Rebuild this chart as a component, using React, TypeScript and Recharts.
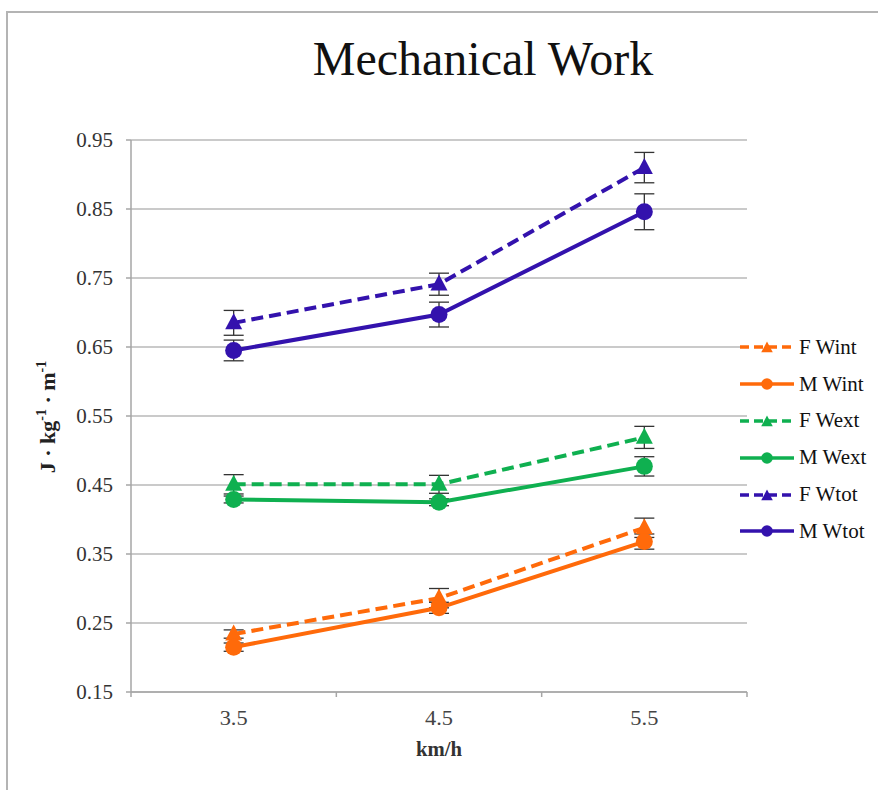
import React from 'react';
import { LineChart, Line, XAxis, YAxis, CartesianGrid, ErrorBar } from 'recharts';

// walking speed (km/h) and mechanical work (J·kg⁻¹·m⁻¹), mean ± SD
const speeds = [3.5, 4.5, 5.5];

const fWint = [0.234, 0.286, 0.388];
const fWintSd = [0.006, 0.014, 0.014];
const mWint = [0.215, 0.272, 0.368];
const mWintSd = [0.006, 0.008, 0.011];

const fWext = [0.451, 0.451, 0.519];
const fWextSd = [0.014, 0.013, 0.016];
const mWext = [0.429, 0.425, 0.477];
const mWextSd = [0.005, 0.005, 0.014];

const fWtot = [0.685, 0.741, 0.910];
const fWtotSd = [0.018, 0.016, 0.022];
const mWtot = [0.645, 0.697, 0.846];
const mWtotSd = [0.015, 0.018, 0.026];

const yTicks = [0.15, 0.25, 0.35, 0.45, 0.55, 0.65, 0.75, 0.85, 0.95];
// band edges get tick marks, band centres get the speed labels
const xTicks = [3, 3.5, 4, 4.5, 5, 5.5, 6];

const SERIF = '"Liberation Serif", "Times New Roman", serif';
const ORANGE = '#ff6a0a';
const GREEN = '#0fb050';
const BLUE = '#3312ad';
const AXIS = '#a6a6a6';

type Shape = 'triangle' | 'circle';

interface Series {
  key: string;
  name: string;
  color: string;
  dashed: boolean;
  shape: Shape;
  values: number[];
  sd: number[];
}

const series: Series[] = [
  { key: 'fWint', name: 'F Wint', color: ORANGE, dashed: true, shape: 'triangle', values: fWint, sd: fWintSd },
  { key: 'mWint', name: 'M Wint', color: ORANGE, dashed: false, shape: 'circle', values: mWint, sd: mWintSd },
  { key: 'fWext', name: 'F Wext', color: GREEN, dashed: true, shape: 'triangle', values: fWext, sd: fWextSd },
  { key: 'mWext', name: 'M Wext', color: GREEN, dashed: false, shape: 'circle', values: mWext, sd: mWextSd },
  { key: 'fWtot', name: 'F Wtot', color: BLUE, dashed: true, shape: 'triangle', values: fWtot, sd: fWtotSd },
  { key: 'mWtot', name: 'M Wtot', color: BLUE, dashed: false, shape: 'circle', values: mWtot, sd: mWtotSd },
];

const rows = speeds.map((speed, i) => {
  const row: Record<string, number> = { speed };
  series.forEach((s) => {
    row[s.key] = s.values[i];
    row[`${s.key}Sd`] = s.sd[i];
  });
  return row;
});

// ─── Markers ──────────────────────────────────────────────────────────────────

function Marker({ cx, cy, color, shape, scale = 1 }: { cx: number; cy: number; color: string; shape: Shape; scale?: number }) {
  if (shape === 'triangle') {
    const w = 17 * scale;
    const h = 16 * scale;
    return (
      <polygon
        points={`${cx},${cy - h * 0.6} ${cx - w / 2},${cy + h * 0.4} ${cx + w / 2},${cy + h * 0.4}`}
        fill={color}
      />
    );
  }
  return <circle cx={cx} cy={cy} r={8.5 * scale} fill={color} />;
}

// ─── Axis pieces ──────────────────────────────────────────────────────────────

function SpeedTick({ x, y, payload }: any) {
  const v = payload.value as number;
  if (Number.isInteger(v)) {
    return <line x1={x} y1={y} x2={x} y2={y + 5} stroke={AXIS} strokeWidth={1.5} />;
  }
  return (
    <text
      x={x}
      y={y + 33}
      textAnchor="middle"
      fontFamily={SERIF}
      fontSize={20}
      fill="#444"
      textLength={28}
      lengthAdjust="spacingAndGlyphs"
    >
      {v.toFixed(1)}
    </text>
  );
}

function SpeedLabel() {
  return (
    <text
      x={439}
      y={756}
      textAnchor="middle"
      fontFamily={SERIF}
      fontSize={21}
      fontWeight="bold"
      fill="#333"
      textLength={46}
      lengthAdjust="spacingAndGlyphs"
    >
      km/h
    </text>
  );
}

function UnitLabel() {
  return (
    <text
      transform="translate(55, 417) rotate(-90)"
      textAnchor="middle"
      fontFamily={SERIF}
      fontSize={22}
      fontWeight="bold"
      fill="#222"
    >
      <tspan>J · kg</tspan>
      <tspan dy={-9} fontSize={14}>-1</tspan>
      <tspan dy={9}> ·  m</tspan>
      <tspan dy={-9} fontSize={14}>-1</tspan>
    </text>
  );
}

// ─── Legend ───────────────────────────────────────────────────────────────────

function LegendBlock() {
  return (
    <div style={{ position: 'absolute', left: 738, top: 329, fontFamily: SERIF, fontSize: 21, color: '#111' }}>
      {series.map((s) => (
        <div key={s.key} style={{ display: 'flex', alignItems: 'center', height: 36.8 }}>
          <svg width={58} height={20} style={{ display: 'block' }}>
            <line
              x1={2}
              y1={10}
              x2={56}
              y2={10}
              stroke={s.color}
              strokeWidth={3.5}
              strokeDasharray={s.dashed ? '9 5' : undefined}
            />
            <Marker cx={29} cy={s.shape === 'triangle' ? 11 : 10} color={s.color} shape={s.shape} scale={0.68} />
          </svg>
          <span style={{ marginLeft: 3, lineHeight: '21px' }}>{s.name}</span>
        </div>
      ))}
    </div>
  );
}

// ─── Chart ────────────────────────────────────────────────────────────────────

export default function App() {
  return (
    <div
      style={{
        position: 'absolute',
        left: 0,
        top: 0,
        width: 878,
        height: 790,
        overflow: 'hidden',
        background: '#fff',
      }}
    >
      {/* chart-area frame: only its top and left edges fall inside the image */}
      <div
        style={{
          position: 'absolute',
          left: 6,
          top: 11,
          width: 1000,
          height: 1000,
          borderLeft: '2px solid #b4b4b4',
          borderTop: '2px solid #b4b4b4',
        }}
      />
      <div
        style={{
          position: 'absolute',
          left: 0,
          top: 35,
          width: 966,
          textAlign: 'center',
          fontFamily: SERIF,
          fontSize: 48,
          lineHeight: '48px',
          color: '#111',
        }}
      >
        Mechanical Work
      </div>

      <div style={{ position: 'absolute', left: 0, top: 0 }}>
        <LineChart width={878} height={790} data={rows} margin={{ top: 140, right: 131, bottom: 38, left: 71 }}>
          <CartesianGrid horizontal vertical={false} stroke="#b8b8b8" strokeWidth={1.5} />
          <XAxis
            dataKey="speed"
            type="number"
            domain={[3, 6]}
            ticks={xTicks}
            interval={0}
            height={60}
            tickSize={0}
            tickMargin={0}
            tickLine={false}
            axisLine={{ stroke: AXIS, strokeWidth: 1.5 }}
            tick={<SpeedTick />}
            label={<SpeedLabel />}
          />
          <YAxis
            type="number"
            domain={[0.15, 0.95]}
            ticks={yTicks}
            interval={0}
            width={60}
            tickSize={5}
            tickMargin={13}
            tickFormatter={(v: number) => v.toFixed(2)}
            tick={{ fontFamily: SERIF, fontSize: 21, fill: '#333' }}
            tickLine={{ stroke: AXIS, strokeWidth: 1.5 }}
            axisLine={{ stroke: AXIS, strokeWidth: 1.5 }}
            label={<UnitLabel />}
          />
          {series.map((s) => (
            <Line
              key={s.key}
              dataKey={s.key}
              name={s.name}
              type="linear"
              stroke={s.color}
              strokeWidth={4}
              strokeDasharray={s.dashed ? '12 6' : undefined}
              isAnimationActive={false}
              dot={(p: any) => (
                <Marker key={`${s.key}-${p.index}`} cx={p.cx} cy={p.cy} color={s.color} shape={s.shape} />
              )}
              activeDot={false}
            >
              <ErrorBar dataKey={`${s.key}Sd`} direction="y" width={10} stroke="#333" strokeWidth={1.3} />
            </Line>
          ))}
        </LineChart>
      </div>

      <LegendBlock />
    </div>
  );
}
